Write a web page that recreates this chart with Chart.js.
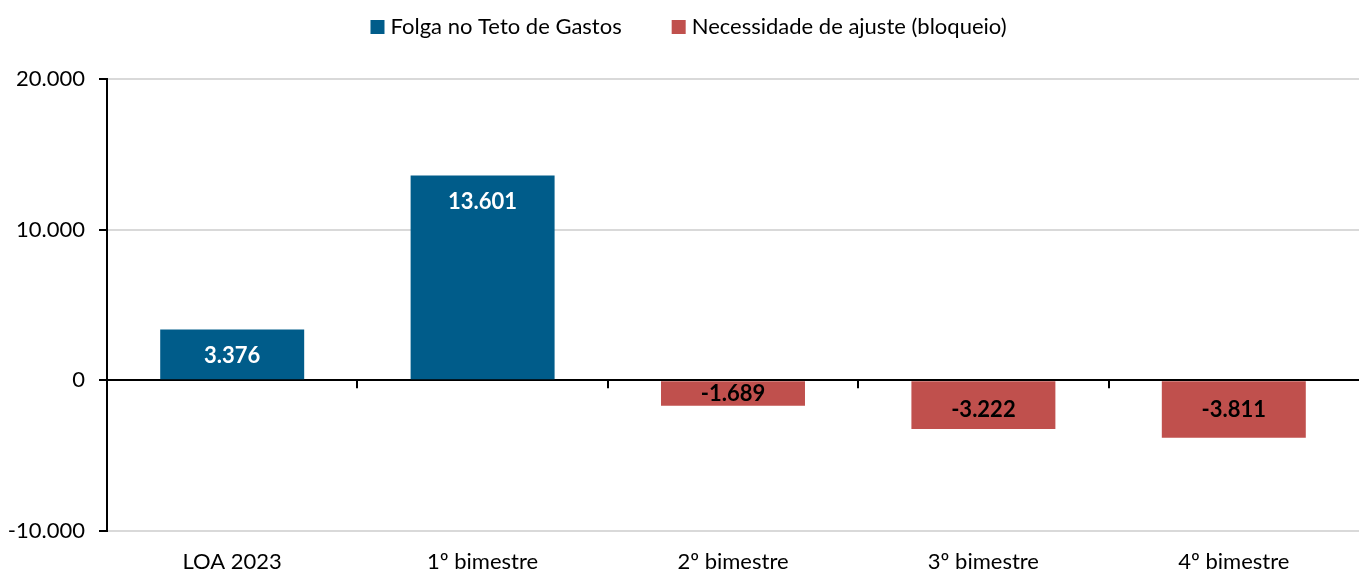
<!DOCTYPE html>
<html>
<head>
<meta charset="utf-8">
<script src="https://cdn.jsdelivr.net/npm/chart.js@4/dist/chart.umd.min.js"></script>
<style>
  html, body { margin: 0; padding: 0; background: #fff; }
  #wrap { width: 1359px; height: 572px; }
</style>
</head>
<body>
<div id="wrap"><canvas id="barChart"></canvas></div>
<script>
const categories = ["LOA 2023", "1º bimestre", "2º bimestre", "3º bimestre", "4º bimestre"];
const folga = [3376, 13601, null, null, null];
const ajuste = [null, null, -1689, -3222, -3811];
const yTicks = [-10000, 0, 10000, 20000];

const fmt = (v) => {
  const s = Math.abs(Math.round(v)).toString().replace(/\B(?=(\d{3})+(?!\d))/g, ".");
  return (v < 0 ? "-" : "") + s;
};

// value labels inside the bars
const barLabels = {
  id: "barLabels",
  afterDatasetsDraw(chart) {
    const ctx = chart.ctx;
    const base = chart.scales.y.getPixelForValue(0);
    ctx.save();
    ctx.font = "bold 22px Lato";
    ctx.textAlign = "center";
    ctx.textBaseline = "middle";
    chart.data.datasets.forEach((ds, i) => {
      chart.getDatasetMeta(i).data.forEach((bar, j) => {
        const v = ds.data[j];
        if (v == null) return;
        let y;
        if (v > 0) {
          ctx.fillStyle = "#ffffff";
          y = bar.y + 26;
        } else {
          ctx.fillStyle = "#000000";
          y = Math.min(base + 30, bar.y - 12);
        }
        ctx.fillText(fmt(v), bar.x, y);
      });
    });
    ctx.restore();
  }
};

// small tick marks hanging from the zero line between categories
const zeroTicks = {
  id: "zeroTicks",
  afterDatasetsDraw(chart) {
    const ctx = chart.ctx;
    const x = chart.scales.x;
    const y0 = chart.scales.y.getPixelForValue(0);
    ctx.save();
    ctx.strokeStyle = "#000";
    ctx.lineWidth = 2;
    for (let i = 1; i < categories.length; i++) {
      const px = Math.round(x.getPixelForValue(i - 0.5));
      ctx.beginPath();
      ctx.moveTo(px, y0);
      ctx.lineTo(px, y0 + 8);
      ctx.stroke();
    }
    ctx.restore();
  }
};

// legend drawn by hand so the spacing matches
const topLegend = {
  id: "topLegend",
  afterDraw(chart) {
    const ctx = chart.ctx;
    const box = 14, gap = 6, itemGap = 50, y = 27;
    ctx.save();
    ctx.font = "22px Lato";
    ctx.textBaseline = "middle";
    const items = chart.data.datasets.map((ds) => ({
      text: ds.label,
      color: ds.backgroundColor,
      w: box + gap + ctx.measureText(ds.label).width
    }));
    const total = items.reduce((s, it) => s + it.w, 0) + itemGap * (items.length - 1);
    let x = chart.width / 2 - total / 2 + 9;
    items.forEach((it) => {
      ctx.fillStyle = it.color;
      ctx.fillRect(x, y - box / 2, box, box);
      ctx.fillStyle = "#000";
      ctx.fillText(it.text, x + box + gap, y);
      x += it.w + itemGap;
    });
    ctx.restore();
  }
};

new Chart(document.getElementById("barChart"), {
  type: "bar",
  data: {
    labels: categories,
    datasets: [
      {
        label: "Folga no Teto de Gastos",
        data: folga,
        backgroundColor: "#005C8A",
        borderWidth: 0
      },
      {
        label: "Necessidade de ajuste (bloqueio)",
        data: ajuste,
        backgroundColor: "#C0504D",
        borderWidth: 0
      }
    ]
  },
  options: {
    responsive: true,
    maintainAspectRatio: false,
    animation: false,
    layout: { padding: { top: 79, right: 0, left: 0, bottom: 0 } },
    datasets: { bar: { categoryPercentage: 1, barPercentage: 0.575 } },
    plugins: {
      legend: { display: false },
      tooltip: { enabled: false }
    },
    scales: {
      x: {
        stacked: true,
        grid: { display: false, drawTicks: false },
        border: { display: false },
        afterFit: (axis) => { axis.height = 41; },
        ticks: { font: { family: "Lato", size: 22, lineHeight: 1 }, color: "#000", padding: 20 }
      },
      y: {
        stacked: true,
        min: -10000,
        max: 20000,
        afterBuildTicks: (axis) => { axis.ticks = yTicks.map((v) => ({ value: v })); },
        afterFit: (axis) => { axis.width = 107; },
        grid: {
          color: (c) => (c.tick && c.tick.value === 0 ? "#000" : "#d9d9d9"),
          lineWidth: 2,
          tickColor: "#000",
          tickLength: 8
        },
        border: { color: "#000", width: 2 },
        ticks: {
          font: { family: "Lato", size: 22 },
          color: "#000",
          padding: 14,
          callback: (v) => fmt(v)
        }
      }
    }
  },
  plugins: [barLabels, zeroTicks, topLegend]
});
</script>
</body>
</html>
